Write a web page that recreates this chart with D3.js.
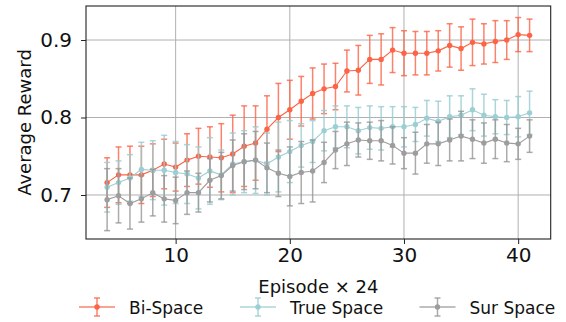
<!DOCTYPE html>
<html>
<head>
<meta charset="utf-8">
<script src="https://cdn.jsdelivr.net/npm/d3@7/dist/d3.min.js"></script>
<style>
	body { margin: 0; background: #fff; }
	svg { display: block; font-family: "DejaVu Sans", sans-serif; }
</style>
</head>
<body>
<svg id="chart" width="566" height="322"></svg>
<script>
// episodes (x axis, in units of 24 episodes)
var episodes = [4, 5, 6, 7, 8, 9, 10, 11, 12, 13, 14, 15, 16, 17, 18, 19, 20, 21, 22, 23, 24,
	25, 26, 27, 28, 29, 30, 31, 32, 33, 34, 35, 36, 37, 38, 39, 40, 41];

var biSpace = [0.716, 0.726, 0.726, 0.726, 0.732, 0.740, 0.736, 0.745, 0.750, 0.749, 0.748,
	0.753, 0.763, 0.767, 0.785, 0.800, 0.810, 0.821, 0.831, 0.837, 0.840, 0.860, 0.861,
	0.875, 0.875, 0.887, 0.883, 0.883, 0.883, 0.886, 0.893, 0.889, 0.897, 0.895, 0.898,
	0.900, 0.907, 0.906];
var biSpaceErr = [0.032, 0.036, 0.037, 0.037, 0.034, 0.032, 0.031, 0.034, 0.036, 0.039, 0.044,
	0.050, 0.052, 0.048, 0.043, 0.044, 0.038, 0.032, 0.033, 0.032, 0.030, 0.027, 0.032,
	0.031, 0.033, 0.029, 0.029, 0.028, 0.028, 0.026, 0.028, 0.028, 0.030, 0.026, 0.027,
	0.025, 0.022, 0.021];

var trueSpace = [0.710, 0.716, 0.722, 0.733, 0.732, 0.732, 0.729, 0.727, 0.722, 0.731, 0.726,
	0.740, 0.743, 0.745, 0.740, 0.749, 0.756, 0.764, 0.769, 0.783, 0.788, 0.788, 0.783,
	0.787, 0.786, 0.788, 0.788, 0.791, 0.799, 0.795, 0.801, 0.803, 0.810, 0.803, 0.801,
	0.800, 0.801, 0.806];
var trueSpaceErr = [0.032, 0.028, 0.030, 0.035, 0.038, 0.045, 0.040, 0.038, 0.040, 0.043, 0.032,
	0.040, 0.040, 0.043, 0.040, 0.045, 0.040, 0.028, 0.027, 0.026, 0.027, 0.027, 0.030,
	0.028, 0.028, 0.026, 0.026, 0.022, 0.023, 0.026, 0.027, 0.025, 0.027, 0.027, 0.022,
	0.022, 0.026, 0.028];

var surSpace = [0.694, 0.699, 0.689, 0.695, 0.703, 0.695, 0.693, 0.703, 0.703, 0.719, 0.725,
	0.738, 0.743, 0.745, 0.735, 0.728, 0.724, 0.729, 0.731, 0.742, 0.758, 0.766, 0.771,
	0.770, 0.770, 0.764, 0.754, 0.754, 0.766, 0.766, 0.771, 0.776, 0.772, 0.767, 0.772,
	0.767, 0.766, 0.776];
var surSpaceErr = [0.040, 0.035, 0.033, 0.030, 0.030, 0.030, 0.030, 0.028, 0.025, 0.028, 0.030,
	0.033, 0.036, 0.037, 0.032, 0.030, 0.038, 0.040, 0.040, 0.026, 0.024, 0.028, 0.022,
	0.024, 0.026, 0.024, 0.020, 0.027, 0.025, 0.028, 0.027, 0.032, 0.025, 0.026, 0.025,
	0.024, 0.020, 0.021];

var seriesNames = ['Bi-Space', 'True Space', 'Sur Space'];
var xTicks = [10, 20, 30, 40];
var yTicks = [0.7, 0.8, 0.9];

var series = [
	{ name: seriesNames[0], mean: biSpace, err: biSpaceErr, line: '#fb6446', bar: 'rgba(251,100,70,0.8)' },
	{ name: seriesNames[1], mean: trueSpace, err: trueSpaceErr, line: '#9ccfd3', bar: 'rgba(150,204,208,0.8)' },
	{ name: seriesNames[2], mean: surSpace, err: surSpaceErr, line: '#9d9d9d', bar: 'rgba(150,150,150,0.8)' }
];

var plot = { left: 86, top: 6, right: 550.7, bottom: 239 };

var x = d3.scaleLinear().domain([2.15, 42.85]).range([plot.left, plot.right]);
var y = d3.scaleLinear().domain([0.6432, 0.9439]).range([plot.bottom, plot.top]);

var svg = d3.select('#chart');

// grid
var grid = svg.append('g').attr('stroke', '#b0b0b0').attr('stroke-width', 1);
grid.selectAll('line.v').data(xTicks).enter()
	.append('line')
		.attr('x1', function(d) { return x(d); })
		.attr('x2', function(d) { return x(d); })
		.attr('y1', plot.top)
		.attr('y2', plot.bottom);
grid.selectAll('line.h').data(yTicks).enter()
	.append('line')
		.attr('x1', plot.left)
		.attr('x2', plot.right)
		.attr('y1', function(d) { return y(d); })
		.attr('y2', function(d) { return y(d); });

// series: error bars, line, markers
var cap = 3;
series.forEach(function(s) {
	var g = svg.append('g');
	var pts = episodes.map(function(e, i) { return { x: e, m: s.mean[i], e: s.err[i] }; });

	var bars = g.append('g').attr('stroke', s.bar).attr('stroke-width', 1.5);
	bars.selectAll('line.stem').data(pts).enter()
		.append('line')
			.attr('x1', function(d) { return x(d.x); })
			.attr('x2', function(d) { return x(d.x); })
			.attr('y1', function(d) { return y(d.m - d.e); })
			.attr('y2', function(d) { return y(d.m + d.e); });
	bars.selectAll('line.top').data(pts).enter()
		.append('line')
			.attr('x1', function(d) { return x(d.x) - cap; })
			.attr('x2', function(d) { return x(d.x) + cap; })
			.attr('y1', function(d) { return y(d.m + d.e); })
			.attr('y2', function(d) { return y(d.m + d.e); });
	bars.selectAll('line.bot').data(pts).enter()
		.append('line')
			.attr('x1', function(d) { return x(d.x) - cap; })
			.attr('x2', function(d) { return x(d.x) + cap; })
			.attr('y1', function(d) { return y(d.m - d.e); })
			.attr('y2', function(d) { return y(d.m - d.e); });

	g.append('path')
		.datum(pts)
		.attr('fill', 'none')
		.attr('stroke', s.line)
		.attr('stroke-width', 1.1)
		.attr('d', d3.line().x(function(d) { return x(d.x); }).y(function(d) { return y(d.m); }));

	g.selectAll('circle').data(pts).enter()
		.append('circle')
			.attr('cx', function(d) { return x(d.x); })
			.attr('cy', function(d) { return y(d.m); })
			.attr('r', 2.7)
			.attr('fill', s.line);
});

// frame
svg.append('rect')
	.attr('x', plot.left)
	.attr('y', plot.top)
	.attr('width', plot.right - plot.left)
	.attr('height', plot.bottom - plot.top)
	.attr('fill', 'none')
	.attr('stroke', '#222')
	.attr('stroke-width', 1.1);

// axes
var xAxis = svg.append('g')
	.attr('transform', 'translate(0,' + plot.bottom + ')')
	.call(d3.axisBottom(x).tickValues(xTicks).tickSize(5).tickPadding(4).tickFormat(d3.format('d')));
var yAxis = svg.append('g')
	.attr('transform', 'translate(' + plot.left + ',0)')
	.call(d3.axisLeft(y).tickValues(yTicks).tickSize(5).tickPadding(9).tickFormat(d3.format('.1f')));

[xAxis, yAxis].forEach(function(a) {
	a.select('.domain').remove();
	a.selectAll('line').attr('stroke', '#222');
	a.selectAll('text')
		.attr('fill', '#111')
		.style('font-family', '"DejaVu Sans", sans-serif')
		.style('font-size', '20px');
});

svg.append('text')
	.attr('x', (plot.left + plot.right) / 2)
	.attr('y', 293)
	.attr('text-anchor', 'middle')
	.attr('fill', '#111')
	.style('font-size', '18px')
	.text('Episode \u00d7 24');

svg.append('text')
	.attr('transform', 'translate(30.5,' + ((plot.top + plot.bottom) / 2) + ') rotate(-90)')
	.attr('text-anchor', 'middle')
	.attr('fill', '#111')
	.style('font-size', '18px')
	.text('Average Reward');

// legend
var legendX = [79, 240, 419.5];
var legendY = 307;
var legend = svg.append('g');
series.forEach(function(s, i) {
	var lx = legendX[i];
	var item = legend.append('g').attr('transform', 'translate(' + lx + ',' + legendY + ')');
	item.append('line')
		.attr('x1', 0).attr('x2', 36).attr('y1', 0).attr('y2', 0)
		.attr('stroke', s.bar).attr('stroke-width', 1.5);
	item.append('line')
		.attr('x1', 18).attr('x2', 18).attr('y1', -9).attr('y2', 9)
		.attr('stroke', s.bar).attr('stroke-width', 1.5);
	item.append('line')
		.attr('x1', 18 - cap).attr('x2', 18 + cap).attr('y1', -9).attr('y2', -9)
		.attr('stroke', s.bar).attr('stroke-width', 1.5);
	item.append('line')
		.attr('x1', 18 - cap).attr('x2', 18 + cap).attr('y1', 9).attr('y2', 9)
		.attr('stroke', s.bar).attr('stroke-width', 1.5);
	item.append('circle')
		.attr('cx', 18).attr('cy', 0).attr('r', 2.7)
		.attr('fill', s.line);
	item.append('text')
		.attr('x', 50)
		.attr('y', 7)
		.attr('fill', '#111')
		.style('font-size', '17px')
		.text(s.name);
});
</script>
</body>
</html>
